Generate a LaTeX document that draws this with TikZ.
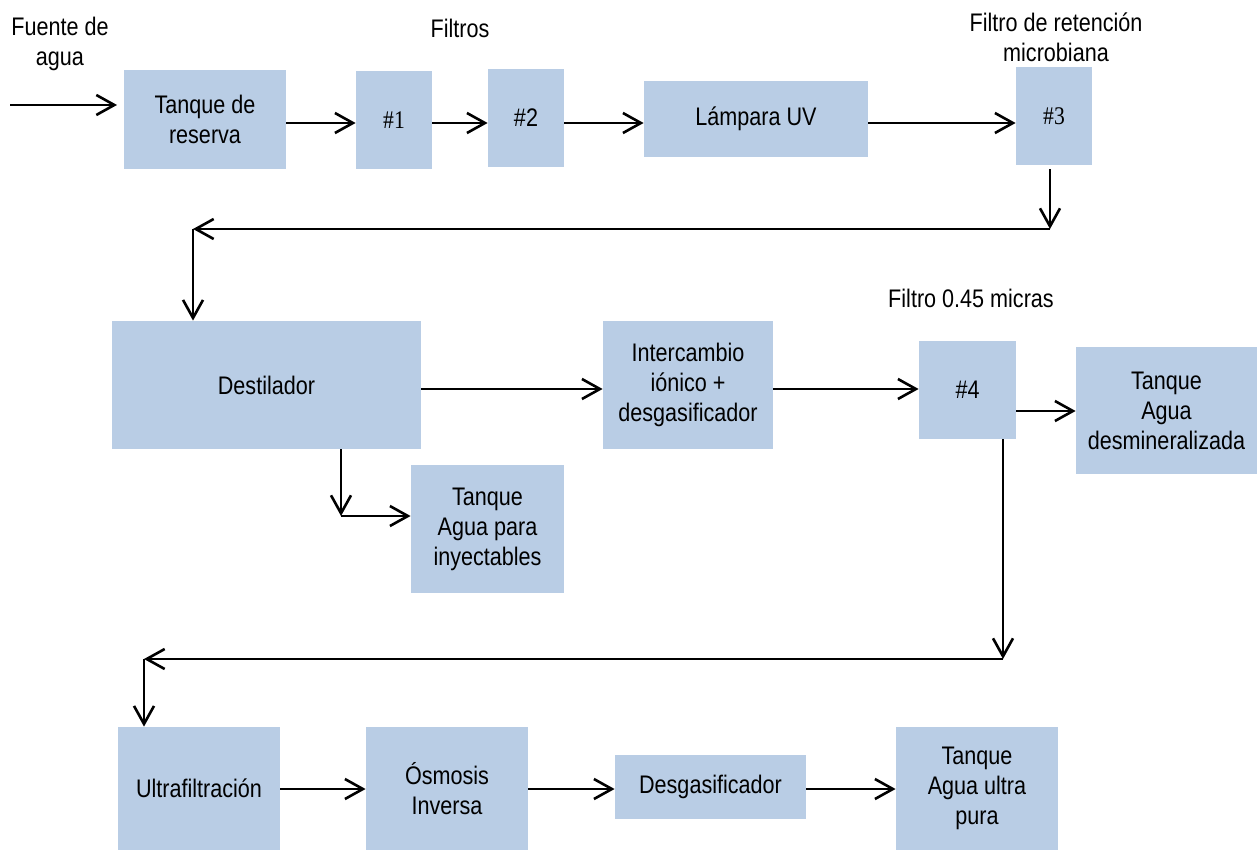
\documentclass[tikz,border=0pt]{standalone}
\usepackage{fontspec}
\setmainfont{Liberation Sans}[FakeStretch=0.85]
\newfontfamily\serifnum{Liberation Serif}[FakeStretch=0.85]
\usetikzlibrary{arrows.meta}
\definecolor{boxblue}{HTML}{B9CDE5}
\tikzset{
  box/.style={fill=boxblue, draw=none, align=center, inner sep=0pt,
    font=\fontsize{12.7}{15}\selectfont},
  lbl/.style={align=center, inner sep=0pt, font=\fontsize{12.7}{15}\selectfont},
  arr/.style={line width=1.3pt, -{Straight Barb[length=9pt,width=10pt,line width=1.3pt]}},
  ln/.style={line width=1.3pt}
}
\begin{document}
\begin{tikzpicture}[x=0.5pt,y=-0.5pt]
\useasboundingbox (0,0) rectangle (1257,850);
% boxes
\node[box, minimum width=81pt, minimum height=49.5pt] (tanque) at (205,119.5) {Tanque de\\reserva};
\node[box, minimum width=38pt, minimum height=49pt] (f1) at (394,120) {\serifnum\#1};
\node[box, minimum width=38pt, minimum height=49pt] (f2) at (526,118) {\#2};
\node[box, minimum width=112pt, minimum height=38pt] (uv) at (756,119) {Lámpara UV};
\node[box, minimum width=38pt, minimum height=49pt] (f3) at (1054,116) {\serifnum\#3};
\node[box, minimum width=154.5pt, minimum height=64pt] (dest) at (266.5,385) {Destilador};
\node[box, minimum width=85pt, minimum height=64pt] (inter) at (688,385) {Intercambio\\iónico +\\desgasificador};
\node[box, minimum width=48.5pt, minimum height=49pt] (f4) at (967.5,390) {\#4};
\node[box, minimum width=90.5pt, minimum height=63.5pt] (tdem) at (1166.5,410.5) {Tanque\\Agua\\desmineralizada};
\node[box, minimum width=76.5pt, minimum height=64pt] (tiny) at (487.5,529) {Tanque\\Agua para\\inyectables};
\node[box, minimum width=81pt, minimum height=61.5pt] (ultra) at (199,788.5) {Ultrafiltración};
\node[box, minimum width=81pt, minimum height=61.5pt] (osm) at (447,788.5) {Ósmosis\\Inversa};
\node[box, minimum width=95.5pt, minimum height=32pt] (desg) at (710.5,787) {Desgasificador};
\node[box, minimum width=81pt, minimum height=61.5pt] (tup) at (977,788.5) {Tanque\\Agua ultra\\pura};
% labels
\node[lbl] (lfuente) at (60,44) {Fuente de\\agua};
\node[lbl] (lfiltros) at (460,28) {Filtros};
\node[lbl] (lret) at (1056,37) {Filtro de retención\\microbiana};
\node[lbl] (lf45) at (971,298) {Filtro 0.45 micras};
% helper coordinates
\coordinate (src) at (10,105);
\coordinate (srcend) at (117,105);
\coordinate (yA) at (0,123);
\coordinate (r1) at (1050,229);
\coordinate (r2) at (193,229);
\coordinate (yB) at (0,389);
\coordinate (b1) at (341,516);
\coordinate (yD) at (0,411);
\coordinate (r3) at (1003,659);
\coordinate (r4) at (144,659);
\coordinate (yE) at (0,789);
% connectors
\draw[arr] (src) -- (srcend);
\draw[arr] (tanque.east |- yA) -- (f1.west |- yA);
\draw[arr] (f1.east |- yA) -- (f2.west |- yA);
\draw[arr] (f2.east |- yA) -- (uv.west |- yA);
\draw[arr] (uv.east |- yA) -- (f3.west |- yA);
\draw[arr] ([yshift=-2pt]f3.south -| r1) -- (r1);
\draw[arr] (r1) -- (r2);
\draw[arr] (r2) -- (dest.north -| r2);
\draw[arr] (dest.east |- yB) -- (inter.west |- yB);
\draw[arr] (dest.south -| b1) -- (b1);
\draw[arr] (b1) -- (tiny.west |- b1);
\draw[arr] (inter.east |- yB) -- (f4.west |- yB);
\draw[arr] (f4.east |- yD) -- (tdem.west |- yD);
\draw[arr] (f4.south -| r3) -- (r3);
\draw[arr] (r3) -- (r4);
\draw[arr] (r4) -- (ultra.north -| r4);
\draw[arr] (ultra.east |- yE) -- (osm.west |- yE);
\draw[arr] (osm.east |- yE) -- (desg.west |- yE);
\draw[arr] (desg.east |- yE) -- (tup.west |- yE);
\end{tikzpicture}
\end{document}
